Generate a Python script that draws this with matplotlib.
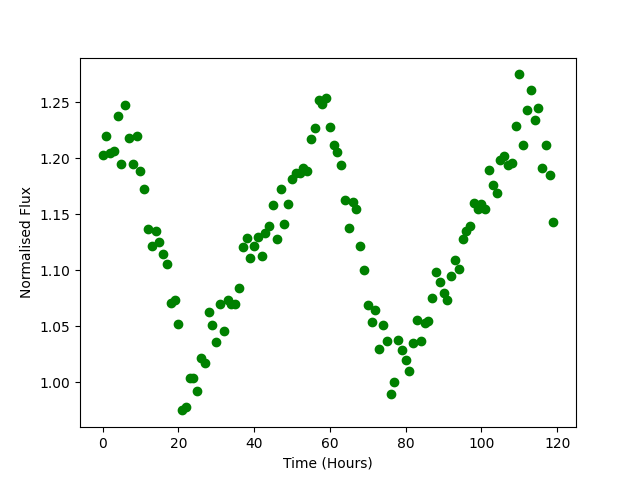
import matplotlib
matplotlib.use("Agg")
import matplotlib.pyplot as plt
import numpy as np

hours = np.arange(120)
flux = [
    1.203, 1.220, 1.205, 1.207, 1.238, 1.195, 1.248, 1.218, 1.195, 1.220,
    1.189, 1.173, 1.137, 1.122, 1.135, 1.125, 1.115, 1.106, 1.071, 1.074,
    1.052, 0.975, 0.978, 1.004, 1.004, 0.992, 1.022, 1.017, 1.063, 1.051,
    1.036, 1.070, 1.046, 1.074, 1.070, 1.070, 1.084, 1.121, 1.129, 1.111,
    1.122, 1.130, 1.113, 1.133, 1.140, 1.158, 1.128, 1.173, 1.141, 1.159,
    1.182, 1.187, 1.187, 1.191, 1.189, 1.217, 1.227, 1.252, 1.249, 1.254,
    1.228, 1.212, 1.206, 1.194, 1.163, 1.138, 1.161, 1.155, 1.122, 1.100,
    1.069, 1.054, 1.065, 1.030, 1.051, 1.037, 0.990, 1.000, 1.038, 1.029,
    1.020, 1.010, 1.035, 1.056, 1.037, 1.053, 1.055, 1.075, 1.099, 1.090,
    1.080, 1.074, 1.095, 1.109, 1.101, 1.128, 1.135, 1.140, 1.160, 1.155,
    1.159, 1.155, 1.190, 1.176, 1.169, 1.199, 1.202, 1.194, 1.196, 1.229,
    1.275, 1.212, 1.243, 1.261, 1.234, 1.245, 1.191, 1.212, 1.185, 1.143,
]

fig, ax = plt.subplots(figsize=(6.4, 4.8), dpi=100)
ax.plot(hours, flux, 'o', color='green')
ax.set_xlabel("Time (Hours)")
ax.set_ylabel("Normalised Flux")
fig.savefig("out.png")
